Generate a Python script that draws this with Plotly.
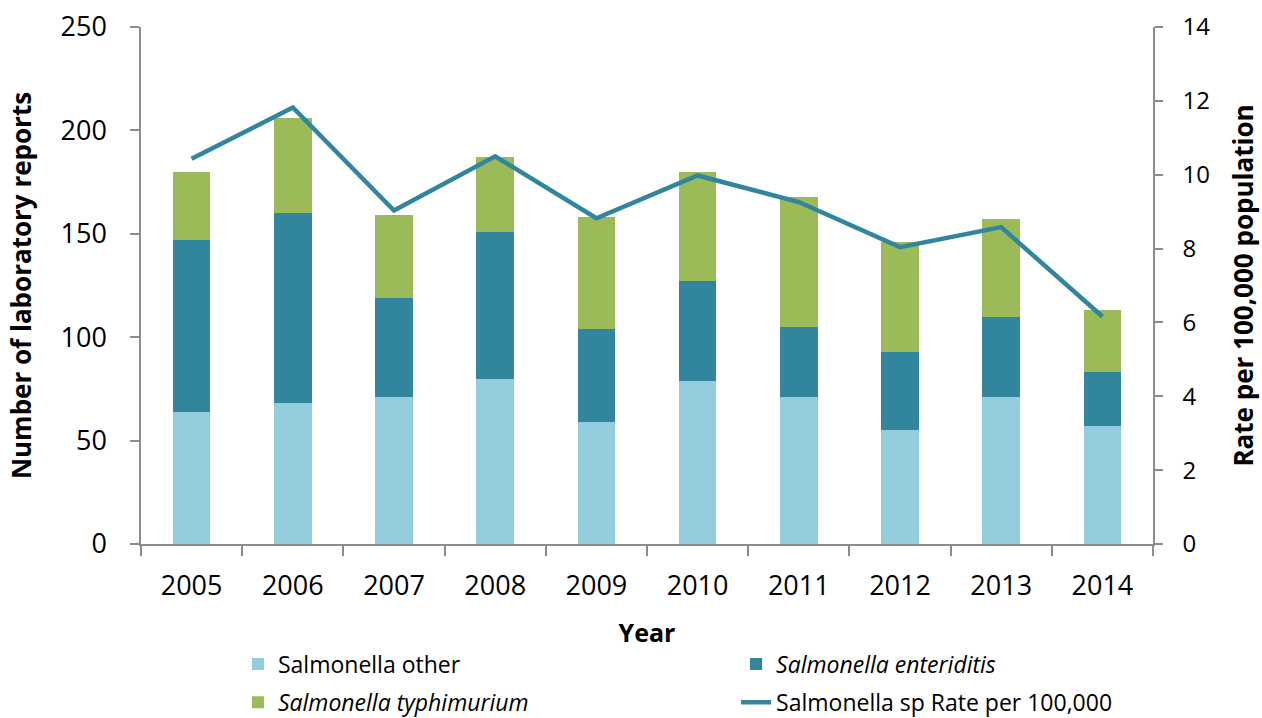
import plotly.graph_objects as go

# Laboratory-confirmed Salmonella reports by year
years = ["2005", "2006", "2007", "2008", "2009", "2010", "2011", "2012", "2013", "2014"]
salmonella_other = [64, 68, 71, 80, 59, 79, 71, 55, 71, 57]
salmonella_enteriditis = [83, 92, 48, 71, 45, 48, 34, 38, 39, 26]
salmonella_typhimurium = [33, 46, 40, 36, 54, 53, 63, 53, 47, 30]
rate_per_100k = [10.43, 11.82, 9.03, 10.50, 8.82, 9.98, 9.26, 8.04, 8.58, 6.16]

FONT = "Open Sans"
AXIS_GREY = "#8c8c8c"

fig = go.Figure()

fig.add_trace(go.Bar(
    x=years, y=salmonella_other, name="Salmonella other",
    marker=dict(color="#93CDDD", line=dict(width=0)), legend="legend", showlegend=True,
))
fig.add_trace(go.Bar(
    x=years, y=salmonella_enteriditis, name="<i>Salmonella enteriditis</i>",
    marker=dict(color="#31859C", line=dict(width=0)), legend="legend2", showlegend=True,
))
fig.add_trace(go.Bar(
    x=years, y=salmonella_typhimurium, name="<i>Salmonella typhimurium</i>",
    marker=dict(color="#9BBB59", line=dict(width=0)), legend="legend3", showlegend=True,
))
fig.add_trace(go.Scatter(
    x=years, y=rate_per_100k, name="Salmonella sp Rate per 100,000",
    mode="lines", line=dict(color="#31859C", width=4.5),
    yaxis="y2", legend="legend4", showlegend=True,
))

# one legend box per entry, laid out as a 2x2 grid under the axis
legend_common = dict(
    orientation="h",
    font=dict(family=FONT, size=23, color="#000"),
    bgcolor="rgba(0,0,0,0)", xanchor="left", yanchor="middle",
)
col1_x, col2_x = 0.0958, 0.588
row1_y, row2_y = -0.232, -0.306

fig.update_layout(
    width=1262, height=718,
    margin=dict(l=141, r=109, t=27, b=174, autoexpand=False),
    paper_bgcolor="white", plot_bgcolor="white",
    showlegend=True,
    barmode="stack", bargap=0.63,
    font=dict(family=FONT, color="#000"),
    xaxis=dict(
        type="category", showgrid=False,
        showline=True, linecolor=AXIS_GREY, linewidth=1.5,
        ticks="outside", tickson="boundaries", ticklen=10, tickcolor=AXIS_GREY, tickwidth=1.5,
        tickfont=dict(family=FONT, size=27, color="#000"),
        ticklabelstandoff=17,
        title=dict(text="<b>Year</b>", font=dict(family=FONT, size=25, color="#000"), standoff=22),
    ),
    yaxis=dict(
        range=[0, 250], dtick=50, showgrid=False, zeroline=False,
        showline=True, linecolor=AXIS_GREY, linewidth=1.5,
        ticks="outside", ticklen=9, tickcolor=AXIS_GREY, tickwidth=1.5,
        tickfont=dict(family=FONT, size=27, color="#000"),
        ticklabelstandoff=18,
        title=dict(text="<b>Number of laboratory reports</b>",
                   font=dict(family=FONT, size=26, color="#000"), standoff=21),
    ),
    yaxis2=dict(
        range=[0, 14], dtick=2, overlaying="y", side="right",
        showgrid=False, zeroline=False,
        showline=True, linecolor=AXIS_GREY, linewidth=1.5,
        ticks="outside", ticklen=8, tickcolor=AXIS_GREY, tickwidth=1.5,
        tickfont=dict(family=FONT, size=24, color="#000"),
        ticklabelstandoff=15,
        title=dict(text="<b>Rate per 100,000 population</b>",
                   font=dict(family=FONT, size=26, color="#000"), standoff=26),
    ),
    legend=dict(x=col1_x, y=row1_y, **legend_common),
    legend2=dict(x=col2_x, y=row1_y, **legend_common),
    legend3=dict(x=col1_x, y=row2_y, **legend_common),
    legend4=dict(x=col2_x, y=row2_y, **legend_common),
)

fig.write_html("out.html")
